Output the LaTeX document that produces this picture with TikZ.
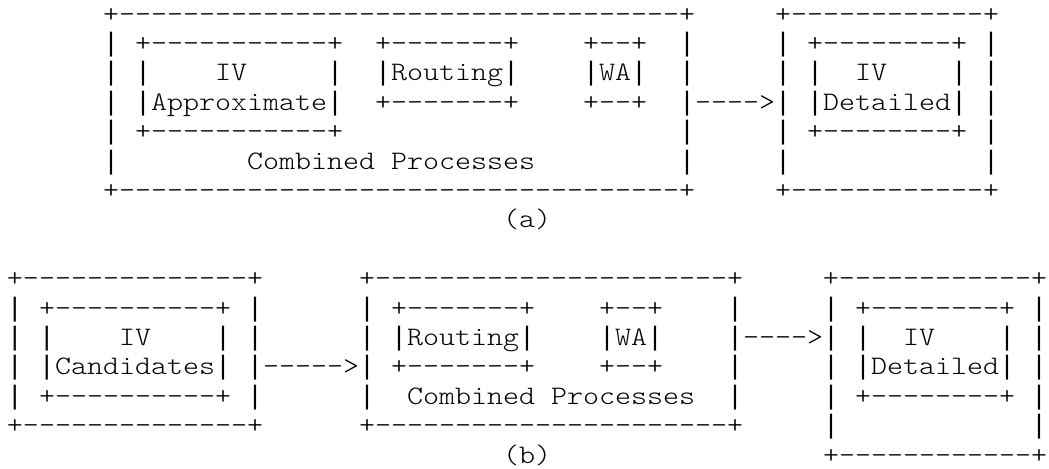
\documentclass[tikz,border=0pt]{standalone}
\usepackage{fontspec}
\setmonofont{lmmonolt10-regular.otf}[FakeStretch=1.1429]
\newfontfamily\ascbarfont{Liberation Mono}
\newcommand\ascbar{{\ascbarfont|}}
\def\ascdash#1{\ifnum#1>0 -\expandafter\ascdash\expandafter{\the\numexpr#1-1\relax}\fi}
\def\ascsp#1{\ifnum#1>0 \ \expandafter\ascsp\expandafter{\the\numexpr#1-1\relax}\fi}
\begin{document}
\begin{tikzpicture}[x=0.375pt,y=0.375pt,
  asc/.style={anchor=base west,inner sep=0pt,outer sep=0pt,text=black,
    font=\ttfamily\fontsize{10}{12}\selectfont\frenchspacing}]
\useasboundingbox (0,0) rectangle (1049,-469);
% (a)
\node[asc] (r0) at (7,-22.1) {\ascsp{6}+\ascdash{35}+\ascsp{5}+\ascdash{12}+};
\node[asc] (r1) at (7,-51.5) {\ascsp{6}\ascbar\ascsp{1}+\ascdash{11}+\ascsp{2}+\ascdash{7}+\ascsp{4}+\ascdash{2}+\ascsp{2}\ascbar\ascsp{5}\ascbar\ascsp{1}+\ascdash{8}+\ascsp{1}\ascbar};
\node[asc] (r2) at (7,-80.9) {\ascsp{6}\ascbar\ascsp{1}\ascbar\ascsp{4}IV\ascsp{5}\ascbar\ascsp{2}\ascbar Routing\ascbar\ascsp{4}\ascbar WA\ascbar\ascsp{2}\ascbar\ascsp{5}\ascbar\ascsp{1}\ascbar\ascsp{2}IV\ascsp{4}\ascbar\ascsp{1}\ascbar};
\node[asc] (r3) at (7,-110.3) {\ascsp{6}\ascbar\ascsp{1}\ascbar Approximate\ascbar\ascsp{2}+\ascdash{7}+\ascsp{4}+\ascdash{2}+\ascsp{2}\ascbar\ascdash{4}>\ascbar\ascsp{1}\ascbar Detailed\ascbar\ascsp{1}\ascbar};
\node[asc] (r4) at (7,-139.7) {\ascsp{6}\ascbar\ascsp{1}+\ascdash{11}+\ascsp{21}\ascbar\ascsp{5}\ascbar\ascsp{1}+\ascdash{8}+\ascsp{1}\ascbar};
\node[asc] (r5) at (7,-169.1) {\ascsp{6}\ascbar\ascsp{8}Combined\ascsp{1}Processes\ascsp{9}\ascbar\ascsp{5}\ascbar\ascsp{12}\ascbar};
\node[asc] (r6) at (7,-198.5) {\ascsp{6}+\ascdash{35}+\ascsp{5}+\ascdash{12}+};
\node[asc] (r7) at (7,-227.9) {\ascsp{31}(a)};
% (b)
\node[asc] (r9) at (7,-286.7) {+\ascdash{14}+\ascsp{6}+\ascdash{22}+\ascsp{5}+\ascdash{12}+};
\node[asc] (r10) at (7,-316.1) {\ascbar\ascsp{1}+\ascdash{10}+\ascsp{1}\ascbar\ascsp{6}\ascbar\ascsp{1}+\ascdash{7}+\ascsp{4}+\ascdash{2}+\ascsp{4}\ascbar\ascsp{5}\ascbar\ascsp{1}+\ascdash{8}+\ascsp{1}\ascbar};
\node[asc] (r11) at (7,-345.5) {\ascbar\ascsp{1}\ascbar\ascsp{4}IV\ascsp{4}\ascbar\ascsp{1}\ascbar\ascsp{6}\ascbar\ascsp{1}\ascbar Routing\ascbar\ascsp{4}\ascbar WA\ascbar\ascsp{4}\ascbar\ascdash{4}>\ascbar\ascsp{1}\ascbar\ascsp{2}IV\ascsp{4}\ascbar\ascsp{1}\ascbar};
\node[asc] (r12) at (7,-374.9) {\ascbar\ascsp{1}\ascbar Candidates\ascbar\ascsp{1}\ascbar\ascdash{5}>\ascbar\ascsp{1}+\ascdash{7}+\ascsp{4}+\ascdash{2}+\ascsp{4}\ascbar\ascsp{5}\ascbar\ascsp{1}\ascbar Detailed\ascbar\ascsp{1}\ascbar};
\node[asc] (r13) at (7,-404.3) {\ascbar\ascsp{1}+\ascdash{10}+\ascsp{1}\ascbar\ascsp{6}\ascbar\ascsp{2}Combined\ascsp{1}Processes\ascsp{2}\ascbar\ascsp{5}\ascbar\ascsp{1}+\ascdash{8}+\ascsp{1}\ascbar};
\node[asc] (r14) at (7,-433.7) {+\ascdash{14}+\ascsp{6}+\ascdash{22}+\ascsp{5}\ascbar\ascsp{12}\ascbar};
\node[asc] (r15) at (7,-463.1) {\ascsp{31}(b)\ascsp{17}+\ascdash{12}+};
\end{tikzpicture}
\end{document}
